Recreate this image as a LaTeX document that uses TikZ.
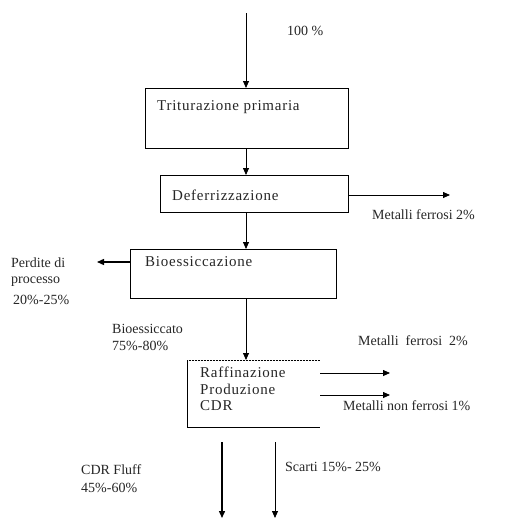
\documentclass[tikz,border=0pt]{standalone}
\usepackage{fontspec}
\setmainfont{Liberation Serif}
\newfontfamily\boxfont[LetterSpace=5]{Liberation Serif}
\usetikzlibrary{arrows.meta}
\begin{document}
\begin{tikzpicture}[x=1pt,y=-1pt,
  box/.style={draw,line width=0.8pt,inner sep=0pt,anchor=north west},
  lbl/.style={inner sep=0pt,anchor=west,font=\fontsize{14}{16}\selectfont,text=black!85},
  blbl/.style={lbl,font=\boxfont\fontsize{15}{17}\selectfont},
  arr/.style={line width=0.8pt,-{Triangle[length=7pt,width=6pt]}},
]
\useasboundingbox (0,0) rectangle (513,522);
% boxes
\node[box,minimum width=203pt,minimum height=60pt] (b1) at (145,88) {};
\node[box,line width=1.4pt,minimum width=188pt,minimum height=37pt] (b2) at (160,175) {};
\node[box,minimum width=206pt,minimum height=49pt] (b3) at (130,249) {};
\node[inner sep=0pt,minimum width=133pt,minimum height=67pt,anchor=north west] (b4) at (187,360) {};
\draw[line width=0.8pt] (b4.north west) -- (b4.south west) -- (b4.south east);
\draw[line width=0.5pt,densely dotted] (b4.north west) -- (b4.north east);
% texts in boxes
\node[blbl] (t1) at (157,107) {Triturazione primaria};
\node[blbl] (t2) at (172,195) {Deferrizzazione};
\node[blbl] (t3) at (145,262) {Bioessiccazione};
\node[blbl] (t4a) at (200,372) {Raffinazione};
\node[blbl] (t4b) at (200,389) {Produzione};
\node[blbl] (t4c) at (200,406) {CDR};
% coordinates
\coordinate (top) at (246,13);
\coordinate (m1) at (450,195);
\coordinate (pl) at (97,262);
\coordinate (r1) at (390,373);
\coordinate (r2) at (390,395);
\coordinate (d1s) at (222,442);
\coordinate (d1e) at (222,518);
\coordinate (d2s) at (275,442);
\coordinate (d2e) at (275,518);
% arrows
\draw[arr] (top) -- (b1.north -| top);
\draw[arr] (b1.south -| top) -- (b2.north -| top);
\draw[arr] (b2.east |- m1) -- (m1);
\draw[arr] (b2.south -| top) -- (b3.north -| top);
\draw[arr,line width=1.4pt] (b3.west |- pl) -- (pl);
\draw[arr] (b3.south -| top) -- (b4.north -| top);
\draw[arr] (b4.east |- r1) -- (r1);
\draw[arr] (b4.east |- r2) -- (r2);
\draw[arr,line width=1.4pt] (d1s) -- (d1e);
\draw[arr] (d2s) -- (d2e);
% labels
\node[lbl] (l100) at (287,31) {100 \%};
\node[lbl] (lmf1) at (372,215) {Metalli ferrosi 2\%};
\node[lbl] (lp1) at (11,263) {Perdite di};
\node[lbl] (lp2) at (11,282) {processo};
\node[lbl] (lp3) at (13,300) {20\%-25\%};
\node[lbl] (lb1) at (112,329) {Bioessiccato};
\node[lbl] (lb2) at (112,346) {75\%-80\%};
\node[lbl] (lmf2) at (358,341) {Metalli\ \ ferrosi\ \ 2\%};
\node[lbl] (lmnf) at (343,406) {Metalli non ferrosi 1\%};
\node[lbl] (lcf1) at (81,470) {CDR Fluff};
\node[lbl] (lcf2) at (81,488) {45\%-60\%};
\node[lbl] (lsc) at (285,467) {Scarti 15\%- 25\%};
\end{tikzpicture}
\end{document}
